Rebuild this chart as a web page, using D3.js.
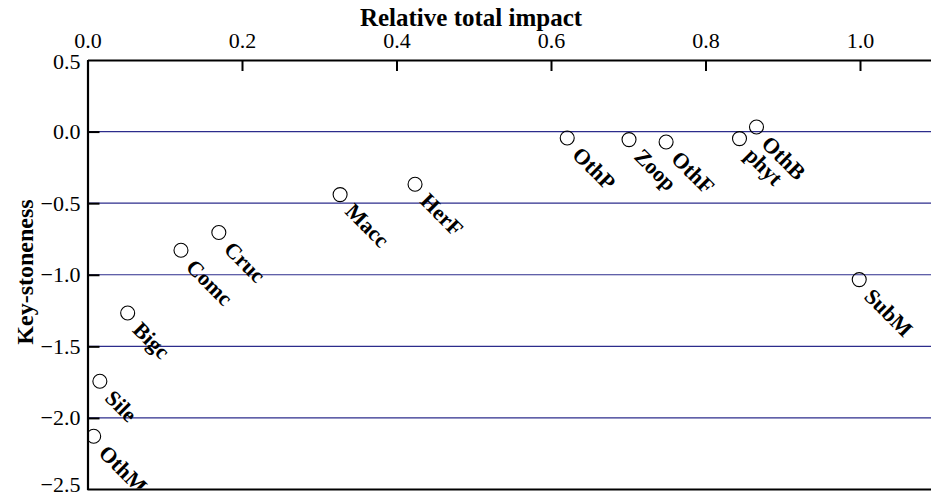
<!DOCTYPE html>
<html><head><meta charset="utf-8">
<script src="https://cdn.jsdelivr.net/npm/d3@7"></script>
<style>body{margin:0;background:#fff}svg{display:block}</style>
</head><body>
<svg id="c" width="931" height="495"></svg>
<script>
const groups = ["OthM","Sile","Bigc","Comc","Cruc","Macc","HerF","OthP","Zoop","OthF","phyt","OthB","SubM"];
const impact = [0.008,0.016,0.052,0.121,0.170,0.327,0.424,0.621,0.701,0.749,0.844,0.866,0.999];
const keystone = [-2.128,-1.744,-1.267,-0.829,-0.705,-0.440,-0.368,-0.045,-0.056,-0.073,-0.049,0.032,-1.034];
const xTicks = [0.0,0.2,0.4,0.6,0.8,1.0];
const yTicks = [0.5,0.0,-0.5,-1.0,-1.5,-2.0,-2.5];
const gridVals = [0.0,-0.5,-1.0,-1.5,-2.0];

const W = 931, H = 495;
const L = 87.5, T = 60, B = 489.5;
const svg = d3.select("#c");
const font = "'Liberation Serif','Times New Roman',serif";
const x = d3.scaleLinear().domain([0, (W - L) / 772.5]).range([L, W]);
const y = d3.scaleLinear().domain([-2.5, 0.5]).range([B, T]);

svg.append("defs").append("clipPath").attr("id", "plot")
  .append("rect").attr("x", L).attr("y", T).attr("width", W - L).attr("height", B - T - 1);

// grid
svg.append("g").selectAll("line").data(gridVals).join("line")
  .attr("x1", L).attr("x2", W).attr("y1", d => y(d)).attr("y2", d => y(d))
  .attr("stroke", "#2c2c8c").attr("stroke-width", 1.2);

// top axis
const xa = svg.append("g").attr("transform", `translate(0,${T})`)
  .call(d3.axisTop(x).tickValues(xTicks).tickFormat(d3.format(".1f")).tickSizeInner(-11).tickSizeOuter(0).tickPadding(12));
xa.select(".domain").attr("stroke-width", 2.2);
xa.selectAll(".tick line").attr("stroke-width", 2);
xa.selectAll("text").attr("font-family", font).attr("font-size", 22).attr("fill", "#000");

// left axis
const ya = svg.append("g").attr("transform", `translate(${L},0)`)
  .call(d3.axisLeft(y).tickValues(yTicks).tickFormat(d => d3.format(".1f")(d).replace("-", "\u2212")).tickSizeInner(-12).tickSizeOuter(0).tickPadding(7));
ya.select(".domain").attr("stroke-width", 2.2);
ya.selectAll(".tick line").attr("stroke-width", 2).filter(d => d === 0.5 || d === -2.5).remove();
ya.selectAll("text").attr("font-family", font).attr("font-size", 22).attr("fill", "#000");
ya.selectAll(".tick text").filter(d => d === -2.5).attr("dy", "0.1em");
ya.selectAll(".tick text").filter(d => d === 0.5).attr("dy", "0.37em");

// bottom line
svg.append("line").attr("x1", L).attr("x2", W).attr("y1", B).attr("y2", B)
  .attr("stroke", "#000").attr("stroke-width", 2.2);

// titles
svg.append("text").attr("x", 471).attr("y", 26).attr("text-anchor", "middle")
  .attr("font-family", font).attr("font-weight", "bold").attr("font-size", 25).text("Relative total impact");
svg.append("text").attr("transform", `translate(33,272) rotate(-90)`).attr("text-anchor", "middle")
  .attr("font-family", font).attr("font-weight", "bold").attr("font-size", 24).text("Key-stoneness");

// points
const data = groups.map((g, i) => ({g, xv: impact[i], yv: keystone[i]}));
const plot = svg.append("g").attr("clip-path", "url(#plot)");
plot.append("g").selectAll("circle").data(data).join("circle")
  .attr("cx", d => x(d.xv)).attr("cy", d => y(d.yv)).attr("r", 7)
  .attr("fill", "none").attr("stroke", "#000").attr("stroke-width", 1.1);

plot.append("g").selectAll("text").data(data).join("text")
  .attr("transform", d => `translate(${x(d.xv)},${y(d.yv)}) rotate(45)`)
  .attr("x", 15.5).attr("y", 10)
  .attr("font-family", font).attr("font-weight", "bold").attr("font-size", 22)
  .text(d => d.g);
</script>
</body></html>
